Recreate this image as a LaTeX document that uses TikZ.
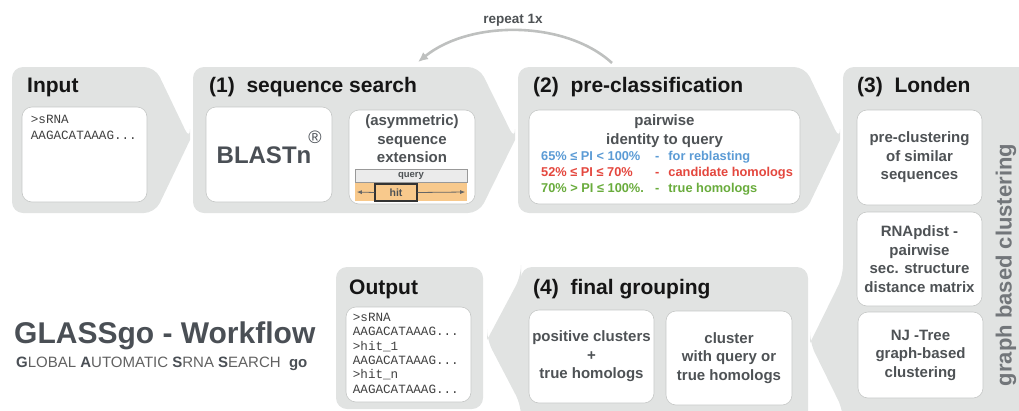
\documentclass[tikz,border=0pt]{standalone}
\usepackage{fontspec}
\setmainfont{Liberation Sans}
\setmonofont{Liberation Mono}
\usetikzlibrary{arrows.meta,positioning}
\definecolor{PanelGray}{HTML}{E1E3E2}
\definecolor{BoxLine}{HTML}{C6C8C7}
\definecolor{TitleInk}{HTML}{151515}
\definecolor{BoxInk}{HTML}{4E5255}
\definecolor{LogoInk}{HTML}{4A4F55}
\definecolor{SideInk}{HTML}{72767A}
\definecolor{ReblastBlue}{HTML}{5B9BD5}
\definecolor{CandRed}{HTML}{E4473E}
\definecolor{TrueGreen}{HTML}{69AC3C}
\definecolor{HitOrange}{HTML}{F8C98C}
\definecolor{ArcGray}{HTML}{BEC0BF}

\begin{document}
\begin{tikzpicture}[x=1pt,y=-1pt,
    stepbox/.style={draw=BoxLine,fill=white,rounded corners=10pt,line width=.6pt,inner sep=0pt,
      align=center,text=BoxInk,font=\fontsize{15}{18.5}\selectfont\bfseries},
    boxtext/.style={inner sep=0pt,align=center,text=BoxInk,font=\fontsize{15}{18.5}\selectfont\bfseries},
    title/.style={anchor=base west,inner sep=0pt,text=TitleInk,font=\fontsize{21}{21}\selectfont\bfseries},
    seqtext/.style={anchor=north west,align=left,inner sep=0pt,text=black!75},
    pirow/.style={anchor=west,inner sep=0pt,font=\fontsize{12.8}{15}\selectfont\bfseries},
    hitarrow/.style={black!60,line width=.8pt,-{Latex[length=5pt,width=4pt]}}]
  \useasboundingbox (0,0) rectangle (1019,410);
  \clip (0,0) rectangle (1019,410);

  \fill[PanelGray] (190,140) [rounded corners=11pt] -- (155,213) -- (12,213) -- (12,67) -- (155,67) -- (190,140) [sharp corners] -- cycle;
  \fill[PanelGray] (515,140) [rounded corners=11pt] -- (479,213) -- (193,213) -- (193,67) -- (479,67) -- (515,140) [sharp corners] -- cycle;
  \fill[PanelGray] (840,140) [rounded corners=11pt] -- (805,213) -- (518,213) -- (518,67) -- (805,67) -- (840,140) [sharp corners] -- cycle;
  \fill[PanelGray] (810,343) [rounded corners=11pt] -- (843,276) -- (843,67) -- (1035,67) -- (1035,425) -- (843,425) -- (843,410) -- (810,343) [sharp corners] -- cycle;
  \fill[PanelGray] (487,340) [rounded corners=11pt] -- (521,276) -- (521,267) -- (808,267) -- (808,425) -- (521,425) -- (521,405) -- (487,340) [sharp corners] -- cycle;
  \fill[PanelGray,rounded corners=11pt] (336,267) rectangle (483,409);

  \node[title] (t-in) at (27,92) {Input};
  \node[title] (t-seq) at (209,92) {(1)\ \ sequence search};
  \node[title] (t-pre) at (533,92) {(2)\ \ pre-classification};
  \node[title] (t-lon) at (857,92) {(3)\ \ Londen};
  \node[title] (t-fin) at (533,294) {(4)\ \ final grouping};
  \node[title] (t-out) at (349,294) {Output};

  \node[stepbox,minimum width=125,minimum height=95] (inbox) at (84.5,154.5) {};
  \node[seqtext,font=\ttfamily\fontsize{12.6}{16.7}\selectfont] (inseq) at ([xshift=9pt,yshift=-8pt]inbox.north west)
    {>sRNA\\AAGACATAAAG...};

  \node[stepbox,minimum width=126,minimum height=95] (blast) at (269,154.5) {};
  \node[inner sep=0pt,text=LogoInk,font=\fontsize{24}{24}\selectfont\bfseries] (blastn) at (264,155) {BLASTn};
  \node[inner sep=0pt,text=LogoInk,font=\fontsize{18}{18}\selectfont] (regmark) at (315,137) {®};

  \node[stepbox,minimum width=126,minimum height=94] (ext) at (412,157) {};
  \node[boxtext,anchor=north] (exttxt) at ([yshift=-5pt]ext.north) {(asymmetric)\\sequence\\extension};
  \node[draw=black!40,fill=black!8,minimum width=112,minimum height=13,inner sep=0pt,
    text=BoxInk,font=\fontsize{9.5}{9.5}\selectfont\bfseries] (query) at (411,175.5) {query};
  \node[fill=HitOrange,minimum width=112,minimum height=18,inner sep=0pt] (band) at (411,192) {};
  \node[draw=black!80,line width=1.1pt,fill=HitOrange,minimum width=42,minimum height=17,inner sep=0pt,
    text=BoxInk,font=\fontsize{10.5}{10.5}\selectfont\bfseries] (hit) at (396,192.5) {hit};
  \draw[hitarrow] (hit.west) -- ([xshift=2pt]band.west);
  \draw[hitarrow] (hit.east) -- ([xshift=-2pt]band.east);

  \node[stepbox,minimum width=271,minimum height=94] (prebox) at (664.5,157) {};
  \node[boxtext,anchor=north] (pretxt) at ([yshift=-5pt]prebox.north) {pairwise\\identity to query};
  \node[pirow,text=ReblastBlue] (pi-blue) at (541,157.5)
    {\makebox[114pt][l]{65\% ≤ PI < 100\%}-\hspace{9pt}for reblasting};
  \node[pirow,text=CandRed] (pi-red) at (541,173.5)
    {\makebox[114pt][l]{52\% ≤ PI ≤ 70\%}-\hspace{9pt}candidate homologs};
  \node[pirow,text=TrueGreen] (pi-green) at (541,189)
    {\makebox[114pt][l]{70\% > PI ≤ 100\%.}-\hspace{9pt}true homologs};

  \node[stepbox,minimum width=125,minimum height=95] (precl) at (919.5,157.5) {pre-clustering\\of similar\\sequences};
  \node[stepbox,minimum width=125,minimum height=94] (rnapd) at (919.5,259) {RNApdist -\\pairwise\\sec. structure\\distance matrix};
  \node[stepbox,minimum width=125,minimum height=86] (njtree) at (920.5,355) {NJ -Tree\\graph-based\\clustering};
  \node[rotate=90,inner sep=0pt,text=SideInk,font=\fontsize{22}{22}\selectfont\bfseries] (graphcl) at (1006,265)
    {graph based clustering};

  \node[stepbox,minimum width=125,minimum height=93] (poscl) at (591.5,356.5) {positive clusters\\+\\true homologs};
  \node[stepbox,minimum width=126,minimum height=94] (qcl) at (729,358) {cluster\\with query or\\true homologs};

  \node[stepbox,minimum width=125,minimum height=95] (outbox) at (408.5,354.5) {};
  \node[seqtext,font=\ttfamily\fontsize{12.6}{14.4}\selectfont] (outseq) at ([xshift=7pt,yshift=-6pt]outbox.north west)
    {>sRNA\\AAGACATAAAG...\\>hit\_1\\AAGACATAAAG...\\>hit\_n\\AAGACATAAAG...};

  \node[anchor=base west,inner sep=0pt,text=LogoInk,font=\fontsize{30}{30}\selectfont\bfseries] (wf) at (14,343)
    {GLASSgo - Workflow};
  \node[anchor=base west,inner sep=0pt,text=black!62,font=\fontsize{15}{15}\selectfont] (wfsub) at (16,367)
    {\textcolor{LogoInk}{\textbf{G}}LOBAL \textcolor{LogoInk}{\textbf{A}}UTOMATIC \textcolor{LogoInk}{\textbf{S}}RNA
     \textcolor{LogoInk}{\textbf{S}}EARCH\ \ \textcolor{LogoInk}{\textbf{go}}};

  \coordinate (rep-from) at (612,63);
  \coordinate (rep-to) at (418,62);
  \draw[ArcGray,line width=2.6pt,-{Latex[length=10pt,width=9pt]}] (rep-from) .. controls (565,20) and (470,20) .. (rep-to);
  \node[inner sep=0pt,text=BoxInk,font=\fontsize{13.5}{13.5}\selectfont\bfseries] (rep) at (513,20) {repeat 1x};
\end{tikzpicture}
\end{document}
